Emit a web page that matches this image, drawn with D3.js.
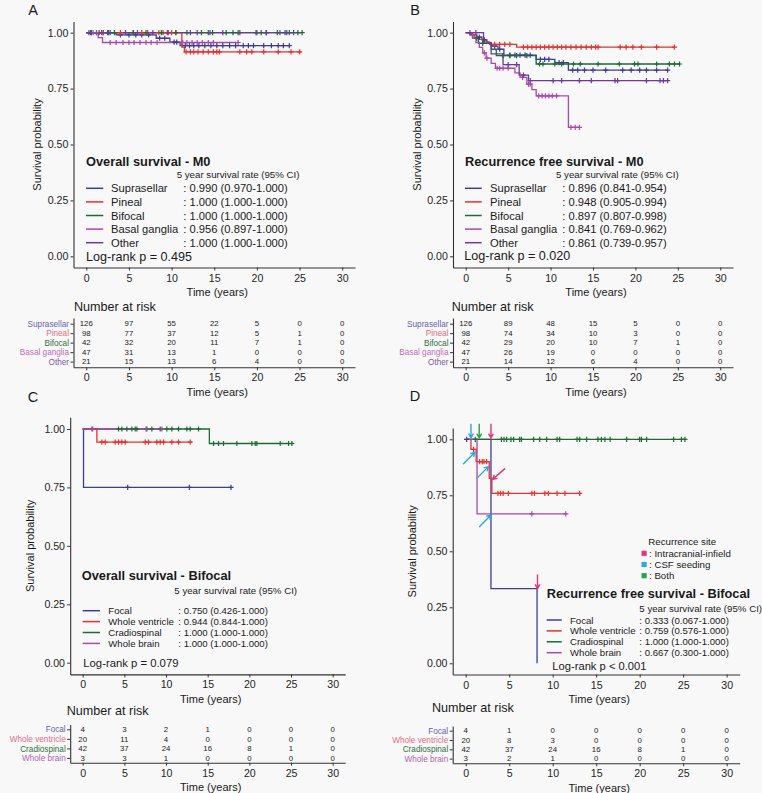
<!DOCTYPE html>
<html><head><meta charset="utf-8">
<script src="https://cdn.jsdelivr.net/npm/d3@7"></script>
<style>
body{margin:0;background:#f8f8f8;}
svg{display:block;background:#f8f8f8;}
</style></head><body>
<svg id="chart" width="762" height="793"></svg>
<script>
// ---------------- DATA ----------------
const timeTicks = [0, 5, 10, 15, 20, 25, 30];
const probTicks = [0, 0.25, 0.5, 0.75, 1];

const groupsM0 = ["Suprasellar", "Pineal", "Bifocal", "Basal ganglia", "Other"];
const groupsBifocal = ["Focal", "Whole ventricle", "Cradiospinal", "Whole brain"];
const colorsM0 = ["#3b3d9b", "#e8302c", "#1e6a34", "#a84aa8", "#6a3c98"];
const colorsBifocal = ["#3b3d9b", "#e8302c", "#1e6a34", "#a84aa8"];
const labelColorsM0 = ["#6464aa", "#e46c86", "#2f6e44", "#c06cb6", "#7a58a2"];
const labelColorsBifocal = ["#6464aa", "#e46c86", "#2f6e44", "#b064b2"];

const panelTitles = ["Overall survival - M0", "Recurrence free survival - M0", "Overall survival - Bifocal", "Recurrence free survival - Bifocal"];
const logRankTexts = ["Log-rank p = 0.495", "Log-rank p = 0.020", "Log-rank p = 0.079", "Log-rank p < 0.001"];
const rateHeader = "5 year survival rate (95% CI)";

// Panel A: overall survival M0  (step points [time, survival])
const osM0Steps = [
  [[0,1],[3.5,0.99],[8.2,0.975],[9.8,0.958],[11.0,0.942]],
  [[0,1],[11.2,0.935],[11.5,0.914]],
  [[0,1]],
  [[0,1],[1.4,0.978],[1.9,0.956]],
  [[0,1]]
];
const osM0End = [23.8, 25.2, 25.3, 17.8, 24.3];
const osM0Censor = [
  [0.5,1.2,2.0,2.8,4.0,5.0,5.8,6.5,7.3,8.6,9.2,10.3,10.6,11.6,12.1,12.6,13.2,13.9,14.6,15.3,16.0,16.8,17.5,18.4,19.0,19.6,20.8,21.7,22.5,23.1,23.8],
  [2.0,4.0,5.5,6.5,7.2,8.5,9.0,9.5,10.0,10.5,11.7,12.2,12.6,13.1,13.7,14.3,14.9,15.3,15.6,18.0,18.8,19.4,20.8,22.5,24.0,25.0],
  [0.6,1.5,2.5,3.3,5.5,7.0,8.8,10.5,11.8,13.5,14.3,14.8,16.4,17.2,17.8,19.9,20.5,21.1,22.4,23.3,23.8,24.8,25.3],
  [0.8,1.2,2.8,3.5,4.3,5.0,5.6,6.3,7.0,7.6,8.3,11.3,11.8,12.4,13.0,13.6,14.3,14.9,17.8],
  [0.3,1.8,2.6,4.6,6.0,7.8,9.6,12.2,13.0,14.5,16.0,18.0,20.0,21.1,22.7,23.5,24.3]
];
const osM0Rates = [": 0.990 (0.970-1.000)", ": 1.000 (1.000-1.000)", ": 1.000 (1.000-1.000)", ": 0.956 (0.897-1.000)", ": 1.000 (1.000-1.000)"];
const osM0Risk = [[126,97,55,22,5,0,0],[98,77,37,12,5,1,0],[42,32,20,11,7,1,0],[47,31,13,1,0,0,0],[21,15,13,6,4,0,0]];

// Panel B: recurrence free survival M0
const rfsM0Steps = [
  [[0,1],[0.6,0.99],[1.3,0.98],[1.9,0.968],[2.5,0.955],[3.0,0.94],[3.8,0.926],[4.5,0.9],[8.3,0.881],[10.5,0.866],[12.1,0.833]],
  [[0,1],[0.5,0.99],[1.0,0.98],[1.6,0.97],[2.2,0.959],[2.8,0.948],[6.0,0.935]],
  [[0,1],[0.8,0.976],[1.5,0.952],[3.0,0.926],[3.6,0.897],[8.3,0.86]],
  [[0,1],[0.8,0.978],[1.2,0.956],[1.6,0.934],[2.0,0.91],[2.4,0.886],[3.0,0.863],[3.5,0.841],[5.8,0.82],[6.4,0.8],[7.2,0.77],[7.8,0.745],[8.3,0.717],[12.1,0.577]],
  [[0,1],[2.1,0.952],[3.0,0.905],[4.4,0.857],[6.3,0.81],[7.4,0.786]]
];
const rfsM0End = [23.8, 24.6, 25.2, 13.4, 23.8];
const rfsM0Censor = [
  [1.6,2.2,3.4,4.0,5.2,5.8,6.4,7.0,7.6,8.8,9.3,9.8,11.0,11.5,12.6,13.2,14.0,15.0,16.5,18.5,19.5,20.5,21.3,22.5,23.8],
  [3.4,4.0,4.6,5.2,6.8,7.3,7.8,8.3,8.8,9.3,9.8,10.3,10.8,11.3,11.8,12.4,13.0,13.6,14.2,14.8,15.3,15.6,18.2,18.9,19.7,20.7,22.5,24.6],
  [1.3,2.0,4.4,5.2,6.0,7.2,8.7,9.1,10.5,11.3,12.7,13.5,15.6,18.1,19.9,20.3,22.5,24.0,24.6,25.2],
  [2.2,2.5,3.7,4.0,4.4,5.0,6.7,7.4,7.6,8.6,9.0,9.4,9.8,10.2,10.7,12.4,12.9,13.4],
  [0.5,1.2,5.0,6.0,6.8,7.6,10.3,11.3,13.4,14.8,17.6,17.9,21.3,22.9,23.3,23.8]
];
const rfsM0Rates = [": 0.896 (0.841-0.954)", ": 0.948 (0.905-0.994)", ": 0.897 (0.807-0.998)", ": 0.841 (0.769-0.962)", ": 0.861 (0.739-0.957)"];
const rfsM0Risk = [[126,89,48,15,5,0,0],[98,74,34,10,3,0,0],[42,29,20,10,7,1,0],[47,26,19,0,0,0,0],[21,14,12,6,4,0,0]];

// Panel C: overall survival bifocal
const osBiSteps = [
  [[0,1],[0.1,0.75]],
  [[0,1],[1.7,0.944]],
  [[0,1],[15.2,0.938]],
  [[0,1]]
];
const osBiEnd = [17.8, 13.1, 25.3, 9.5];
const osBiCensor = [
  [5.4,12.8,17.8],
  [1.2,2.3,2.7,3.9,4.3,4.7,5.1,7.5,7.9,8.9,9.3,9.7,10.7,11.5,12.9],
  [4.3,4.7,5.3,5.9,6.3,6.5,7.7,8.3,9.3,10.1,10.7,11.5,12.5,12.9,13.9,15.7,16.3,16.9,18.5,20.3,20.7,20.9,23.7,24.7,25.1],
  [1.1,7.6,9.5]
];
const osBiRates = [": 0.750 (0.426-1.000)", ": 0.944 (0.844-1.000)", ": 1.000 (1.000-1.000)", ": 1.000 (1.000-1.000)"];
const osBiRisk = [[4,3,2,1,0,0,0],[20,11,4,0,0,0,0],[42,37,24,16,8,1,0],[3,3,1,0,0,0,0]];

// Panel D: recurrence free survival bifocal
const rfsBiSteps = [
  [[0,1],[2.9,0.333],[8.2,0]],
  [[0,1],[0.6,0.955],[1.2,0.9],[2.7,0.826],[3.0,0.759]],
  [[0,1]],
  [[0,1],[1.3,0.667]]
];
const rfsBiEnd = [8.2, 13.1, 25.2, 11.5];
const rfsBiCensor = [
  [0.1],
  [0.9,1.6,1.9,2.1,2.4,3.7,4.0,4.3,4.9,7.6,7.9,9.1,9.5,10.5,11.4,13.1],
  [1.1,4.1,4.4,4.7,5.2,5.5,6.2,6.4,7.8,8.5,9.3,10.5,10.8,12.8,13.1,13.9,15.2,15.6,16.0,16.6,18.5,20.0,20.2,20.8,23.9,24.8,25.2],
  [7.6,11.5]
];
const rfsBiRates = [": 0.333 (0.067-1.000)", ": 0.759 (0.576-1.000)", ": 1.000 (1.000-1.000)", ": 0.667 (0.300-1.000)"];
const rfsBiRisk = [[4,1,0,0,0,0,0],[20,8,3,0,0,0,0],[42,37,24,16,8,1,0],[3,2,1,0,0,0,0]];

// Recurrence-site arrows (panel D)
const recurrenceSites = ["Intracranial-infield", "CSF seeding", "Both"];
const siteColors = ["#e2357a", "#2aa8e0", "#2ca24a"];
const arrowTimes = [0.6, 1.55, 2.9, 1.05, 2.6, 3.1, 2.9, 8.25];
const arrowSurv  = [1, 1, 1, 0.942, 0.878, 0.821, 0.662, 0.327];
const arrowSite  = [1, 2, 0, 1, 1, 0, 1, 0];
const arrowDir   = ["down", "down", "down", "upright", "upright", "downleft", "upright", "down"];

// ---------------- DRAWING ----------------
const FONT = "'Liberation Sans', Arial, Helvetica, sans-serif";
const svg = d3.select("#chart");

const layouts = [
  {L:73.5, R:355, T:21.5, B:267.5, letter:"A", lx:33, ly:10, ytX:36.7,
   leg:{tx:86, ty:161, sx:176.7, sy:174, r0:188.3, dr:13.6, l0:86, l1:103.3, lab:111, val:183.3, px:86, py:256.7, rfs:11.2, pfs:12.6},
   tab:{top:318, bottom:367.3, pad:0.6, tX:74, tY:306.7}},
  {L:453, R:733, T:21.5, B:267.5, letter:"B", lx:415, ly:10, ytX:416.7,
   leg:{tx:465, ty:161, sx:556, sy:174, r0:188.3, dr:13.6, l0:465, l1:481.7, lab:490, val:562.3, px:464.3, py:256, rfs:11.2, pfs:12.6},
   tab:{top:318, bottom:367.3, pad:0.6, tX:451.7, tY:306.7}},
  {L:70.2, R:345.2, T:417.3, B:674.4, letter:"C", lx:33, ly:397, ytX:30,
   leg:{tx:81.7, ty:575.7, sx:174.3, sy:590, r0:610.7, dr:10.9, l0:82.7, l1:100, lab:108.3, val:178.3, px:83.3, py:662.7, rfs:9.6, pfs:11.3},
   tab:{top:724.5, bottom:762.7, pad:0.5, tX:66.7, tY:711}},
  {L:452.7, R:739.7, T:428.1, B:674.5, letter:"D", lx:415, ly:396, ytX:411.7,
   leg:{tx:546.7, ty:593.3, sx:639.3, sy:608.3, r0:620, dr:10.9, l0:546.7, l1:561.7, lab:570, val:639.3, px:552.3, py:666, rfs:9.6, pfs:11.2},
   tab:{top:726, bottom:763.3, pad:0.5, tX:432, tY:708}}
];

const panels = [
  {steps:osM0Steps, ends:osM0End, censors:osM0Censor, groups:groupsM0, colors:colorsM0, lcolors:labelColorsM0, rates:osM0Rates, risk:osM0Risk, title:panelTitles[0], lr:logRankTexts[0], lay:layouts[0]},
  {steps:rfsM0Steps, ends:rfsM0End, censors:rfsM0Censor, groups:groupsM0, colors:colorsM0, lcolors:labelColorsM0, rates:rfsM0Rates, risk:rfsM0Risk, title:panelTitles[1], lr:logRankTexts[1], lay:layouts[1]},
  {steps:osBiSteps, ends:osBiEnd, censors:osBiCensor, groups:groupsBifocal, colors:colorsBifocal, lcolors:labelColorsBifocal, rates:osBiRates, risk:osBiRisk, title:panelTitles[2], lr:logRankTexts[2], lay:layouts[2]},
  {steps:rfsBiSteps, ends:rfsBiEnd, censors:rfsBiCensor, groups:groupsBifocal, colors:colorsBifocal, lcolors:labelColorsBifocal, rates:rfsBiRates, risk:rfsBiRisk, title:panelTitles[3], lr:logRankTexts[3], lay:layouts[3], arrows:true}
];

function styleAxis(a, fs) {
  a.attr("font-family", FONT).attr("font-size", fs);
  a.select(".domain").attr("stroke", "#333").attr("stroke-width", 1.1);
  a.selectAll(".tick line").attr("stroke", "#333").attr("stroke-width", 1);
  a.selectAll(".tick text").attr("fill", "#262626");
}
function kmValue(steps, t) {
  let s = 1;
  for (const [tt, ss] of steps) if (tt <= t) s = ss;
  return s;
}
function txt(g, x, y, s, o) {
  o = o || {};
  return g.append("text").attr("x", x).attr("y", y).text(s)
    .attr("font-family", FONT).attr("font-size", o.fs || 11)
    .attr("font-weight", o.bold ? "bold" : null)
    .attr("text-anchor", o.anchor || "start")
    .attr("dominant-baseline", "central")
    .attr("fill", o.fill || "#1a1a1a");
}

function drawPanel(P) {
  const lay = P.lay;
  const g = svg.append("g");
  const x = d3.scaleLinear().domain([-1.5, 31.5]).range([lay.L, lay.R]);
  const y = d3.scaleLinear().domain([-0.05, 1.05]).range([lay.B, lay.T]);

  // panel letter
  txt(g, lay.lx, lay.ly, lay.letter, {fs: 14.5, anchor: "middle"});

  // axes
  const gx = g.append("g").attr("transform", `translate(0,${lay.B})`)
    .call(d3.axisBottom(x).tickValues(timeTicks).tickSize(3).tickSizeOuter(0).tickPadding(3.5));
  styleAxis(gx, 10.6);
  const gy = g.append("g").attr("transform", `translate(${lay.L},0)`)
    .call(d3.axisLeft(y).tickValues(probTicks).tickFormat(d3.format(".2f")).tickSize(3).tickSizeOuter(0).tickPadding(2.2));
  styleAxis(gy, 10.6);
  txt(g, (lay.L + lay.R) / 2 + 3, lay.B + 24.3, "Time (years)", {fs: 11, anchor: "middle"});
  txt(g, 0, 0, "Survival probability", {fs: 11, anchor: "middle"})
    .attr("transform", `translate(${lay.ytX},${(lay.T + lay.B) / 2}) rotate(-90)`);

  // curves
  const line = d3.line().x(d => x(d[0])).y(d => y(d[1])).curve(d3.curveStepAfter);
  P.steps.forEach((st, i) => {
    const pts = st.concat([[P.ends[i], st[st.length - 1][1]]]);
    g.append("path").attr("d", line(pts)).attr("fill", "none")
      .attr("stroke", P.colors[i]).attr("stroke-width", 1.3);
  });
  // censor marks
  const h = 2.6;
  P.censors.forEach((cs, i) => {
    cs.forEach(t => {
      const cx = x(t), cy = y(kmValue(P.steps[i], t));
      g.append("path").attr("d", `M${cx - h},${cy}H${cx + h}M${cx},${cy - h}V${cy + h}`)
        .attr("stroke", P.colors[i]).attr("stroke-width", 1.2).attr("fill", "none");
    });
  });

  // legend
  const L = lay.leg;
  txt(g, L.tx, L.ty, P.title, {fs: 12.8, bold: true});
  txt(g, L.sx, L.sy, rateHeader, {fs: 9.7});
  P.groups.forEach((gr, i) => {
    const yy = L.r0 + i * L.dr;
    g.append("line").attr("x1", L.l0).attr("x2", L.l1).attr("y1", yy).attr("y2", yy)
      .attr("stroke", P.colors[i]).attr("stroke-width", 1.5);
    txt(g, L.lab, yy, gr, {fs: L.rfs});
    txt(g, L.val, yy, P.rates[i], {fs: L.rfs});
  });
  txt(g, L.px, L.py, P.lr, {fs: L.pfs});

  // arrows (panel D)
  if (P.arrows) {
    const ag = g.append("g");
    arrowTimes.forEach((t, k) => {
      const tx = x(t), ty = y(arrowSurv[k]);
      let sx, sy, ex = tx, ey = ty;
      if (arrowDir[k] === "down") { ey = ty - 1.5; sx = tx; sy = ey - 14; }
      else if (arrowDir[k] === "upright") { sx = tx - 11.8; sy = ty + 12; }
      else { sx = tx + 12.4; sy = ty - 11; }
      const ang = Math.atan2(ey - sy, ex - sx);
      const hl = 4.8, ha = Math.PI / 6;
      const c = siteColors[arrowSite[k]];
      const p = `M${sx},${sy}L${ex},${ey}` +
        `M${ex - hl * Math.cos(ang - ha)},${ey - hl * Math.sin(ang - ha)}L${ex},${ey}` +
        `L${ex - hl * Math.cos(ang + ha)},${ey - hl * Math.sin(ang + ha)}`;
      ag.append("path").attr("d", p).attr("fill", "none").attr("stroke", c)
        .attr("stroke-width", 1.4).attr("stroke-linejoin", "miter");
    });
    // recurrence site legend
    txt(g, 648.3, 541.7, "Recurrence site", {fs: 9.7});
    recurrenceSites.forEach((s, k) => {
      const yy = 553.3 + k * 11.2;
      g.append("rect").attr("x", 641.5).attr("y", yy - 2.6).attr("width", 5.2).attr("height", 5.2)
        .attr("fill", siteColors[k]);
      txt(g, 649, yy, ": " + s, {fs: 9.7});
    });
  }

  // risk table
  const T = lay.tab;
  const tg = svg.append("g");
  txt(tg, T.tX, T.tY, "Number at risk", {fs: 12.6});
  const ty = d3.scalePoint().domain(P.groups).range([T.top, T.bottom]).padding(T.pad);
  const tax = tg.append("g").attr("transform", `translate(0,${T.bottom})`)
    .call(d3.axisBottom(x).tickValues(timeTicks).tickSize(3).tickSizeOuter(0).tickPadding(3.5));
  styleAxis(tax, 10.6);
  const tay = tg.append("g").attr("transform", `translate(${lay.L},0)`)
    .call(d3.axisLeft(ty).tickSize(3).tickSizeOuter(0).tickPadding(1.5));
  styleAxis(tay, 8.2);
  tay.selectAll(".tick text").attr("fill", (d, i) => P.lcolors[i]);
  txt(tg, (lay.L + lay.R) / 2 + 3, T.bottom + 24.5, "Time (years)", {fs: 11, anchor: "middle"});
  P.risk.forEach((row, i) => {
    row.forEach((v, j) => {
      txt(tg, x(timeTicks[j]), ty(P.groups[i]) + 0.3, v, {fs: 7.8, anchor: "middle", fill: "#1a1a1a"});
    });
  });
}

panels.forEach(drawPanel);
</script></body></html>
